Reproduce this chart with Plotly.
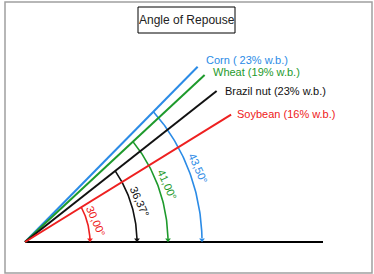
import numpy as np
import plotly.graph_objects as go

# Data
products = ["Corn ( 23% w.b.)", "Wheat (19% w.b.)", "Brazil nut (23% w.b.)", "Soybean (16% w.b.)"]
angles = [43.50, 41.00, 36.37, 30.00]
angle_labels = ["43,50°", "41,00°", "36,37°", "30,00°"]
colors = ["#2b8be6", "#1e9a2c", "#111111", "#ee2020"]
arc_radii = [177, 143, 112, 65]
line_length = 238
base_length = 298

# style: label shifts (px)
label_yshift = [7, 3, 0, 1]
label_xshift = [6, 6, 6, 4]

W, H = 374, 274
ox, oy = 25, 242          # origin in pixels
ky = 1.07                 # vertical stretch of the drawing
FONT = "Liberation Sans, Arial"

fig = go.Figure()

# baseline
fig.add_trace(go.Scatter(x=[0, base_length], y=[0, 0], mode="lines",
                         line=dict(color="black", width=2), hoverinfo="skip"))

for i, (name, a, lab, c, r) in enumerate(zip(products, angles, angle_labels, colors, arc_radii)):
    t = np.radians(a)
    # ray
    fig.add_trace(go.Scatter(x=[0, line_length*np.cos(t)], y=[0, line_length*np.sin(t)],
                             mode="lines", line=dict(color=c, width=2), hoverinfo="skip"))
    # arc
    th = np.linspace(t, np.radians(1.2), 60)
    fig.add_trace(go.Scatter(x=r*np.cos(th), y=r*np.sin(th), mode="lines",
                             line=dict(color=c, width=1.6), hoverinfo="skip"))
    fig.add_trace(go.Scatter(x=[r], y=[2.2], mode="markers",
                             marker=dict(symbol="triangle-down", size=5, color=c),
                             hoverinfo="skip"))
    # angle label
    m = t/2
    rl = r + 9
    fig.add_annotation(x=rl*np.cos(m), y=rl*np.sin(m), text=lab, showarrow=False,
                       xanchor="center", yanchor="middle",
                       textangle=66, font=dict(family=FONT, size=11, color=c))
    # product label
    ex, ey = line_length*np.cos(t), line_length*np.sin(t)
    fig.add_annotation(x=ex, y=ey, text=name, showarrow=False, xanchor="left", yanchor="middle",
                       xshift=label_xshift[i], yshift=label_yshift[i],
                       font=dict(family=FONT, size=11, color=c))

# title box
fig.add_shape(type="rect", xref="paper", yref="paper",
              x0=138/W, x1=235/W, y0=1-33/H, y1=1-7/H,
              line=dict(color="black", width=1), fillcolor="white", layer="below")
fig.add_annotation(xref="paper", yref="paper", x=186.5/W, y=1-20.5/H, text="Angle of Repouse",
                   xanchor="center", yanchor="middle",
                   showarrow=False, font=dict(family=FONT, size=12, color="#222"))
# outer frame
fig.add_shape(type="rect", xref="paper", yref="paper",
              x0=5/W, x1=372/W, y0=1-273/H, y1=1-2/H,
              line=dict(color="#a0a0a0", width=1.5))

fig.update_layout(
    width=W, height=H, margin=dict(l=0, r=0, t=0, b=0),
    paper_bgcolor="white", plot_bgcolor="white", showlegend=False,
    xaxis=dict(range=[-ox, W-ox], visible=False, fixedrange=True),
    yaxis=dict(range=[-(H-oy)/ky, oy/ky], visible=False, fixedrange=True),
)
fig.write_html("out.html")
